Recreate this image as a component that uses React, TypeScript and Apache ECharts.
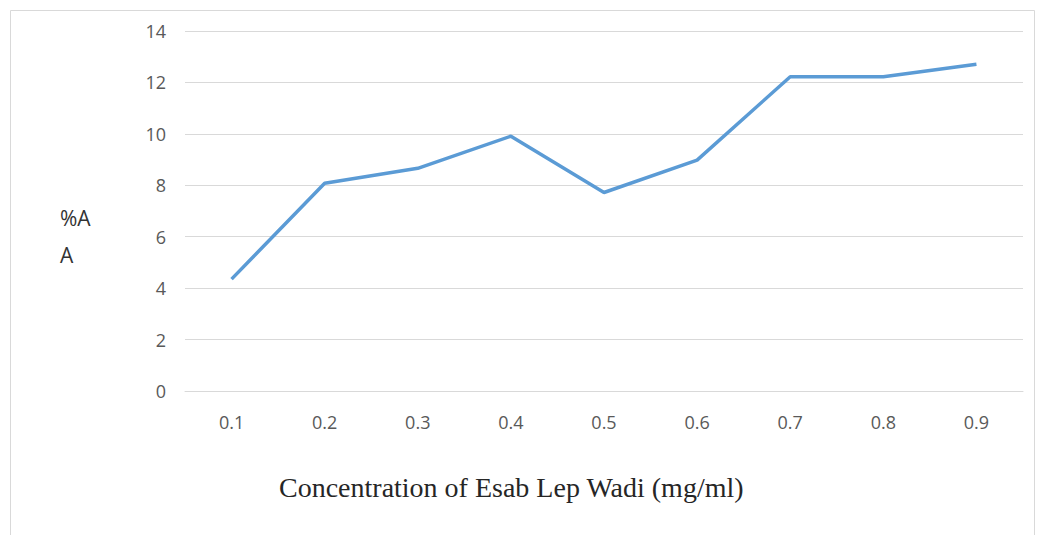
import React, { useEffect, useRef } from "react";
import * as echarts from "echarts";

const categories = ["0.1", "0.2", "0.3", "0.4", "0.5", "0.6", "0.7", "0.8", "0.9"];
const values = [4.35, 8.08, 8.66, 9.91, 7.72, 8.98, 12.22, 12.22, 12.71];
const yTitleLines = ["%A", "A"];
const xTitle = "Concentration of Esab Lep Wadi (mg/ml)";

export default function App() {
  const ref = useRef<HTMLDivElement>(null);
  useEffect(() => {
    document.body.style.margin = "0";
    const chart = echarts.init(ref.current!, null, { renderer: "svg" });
    chart.setOption({
      animation: false,
      backgroundColor: "#ffffff",
      grid: { left: 185, right: 15, top: 31, bottom: 144, containLabel: false },
      xAxis: {
        type: "category",
        data: categories,
        boundaryGap: true,
        axisLine: { show: true, lineStyle: { color: "#d9d9d9", width: 1 } },
        axisTick: { show: false },
        axisLabel: { color: "#595959", fontSize: 18, fontFamily: "Open Sans, sans-serif", margin: 22 },
      },
      yAxis: {
        type: "value",
        min: 0,
        max: 14,
        interval: 2,
        axisLine: { show: false },
        axisTick: { show: false },
        splitLine: { lineStyle: { color: "#d9d9d9", width: 1 } },
        axisLabel: { color: "#595959", fontSize: 18, fontFamily: "Open Sans, sans-serif", margin: 19 },
      },
      series: [
        {
          type: "line",
          data: values,
          symbol: "none",
          lineStyle: { color: "#5b9bd5", width: 3.5 },
        },
      ],
      graphic: [
        {
          type: "rect",
          shape: { x: 10.5, y: 10.5, width: 1024, height: 530 },
          style: { fill: "none", stroke: "#d9d9d9", lineWidth: 1 },
          silent: true,
        },
        {
          type: "text",
          left: 60,
          top: 199,
          style: {
            text: yTitleLines.join("\n"),
            fill: "#333333",
            fontSize: 21,
            lineHeight: 37,
            fontFamily: "Open Sans, sans-serif",
          },
        },
        {
          type: "text",
          left: 279,
          top: 473,
          style: {
            text: xTitle,
            fill: "#262626",
            fontSize: 28,
            fontFamily: "Liberation Serif, Times New Roman, serif",
          },
        },
      ],
    });
    return () => chart.dispose();
  }, []);
  return <div ref={ref} style={{ width: 1038, height: 535 }} />;
}
